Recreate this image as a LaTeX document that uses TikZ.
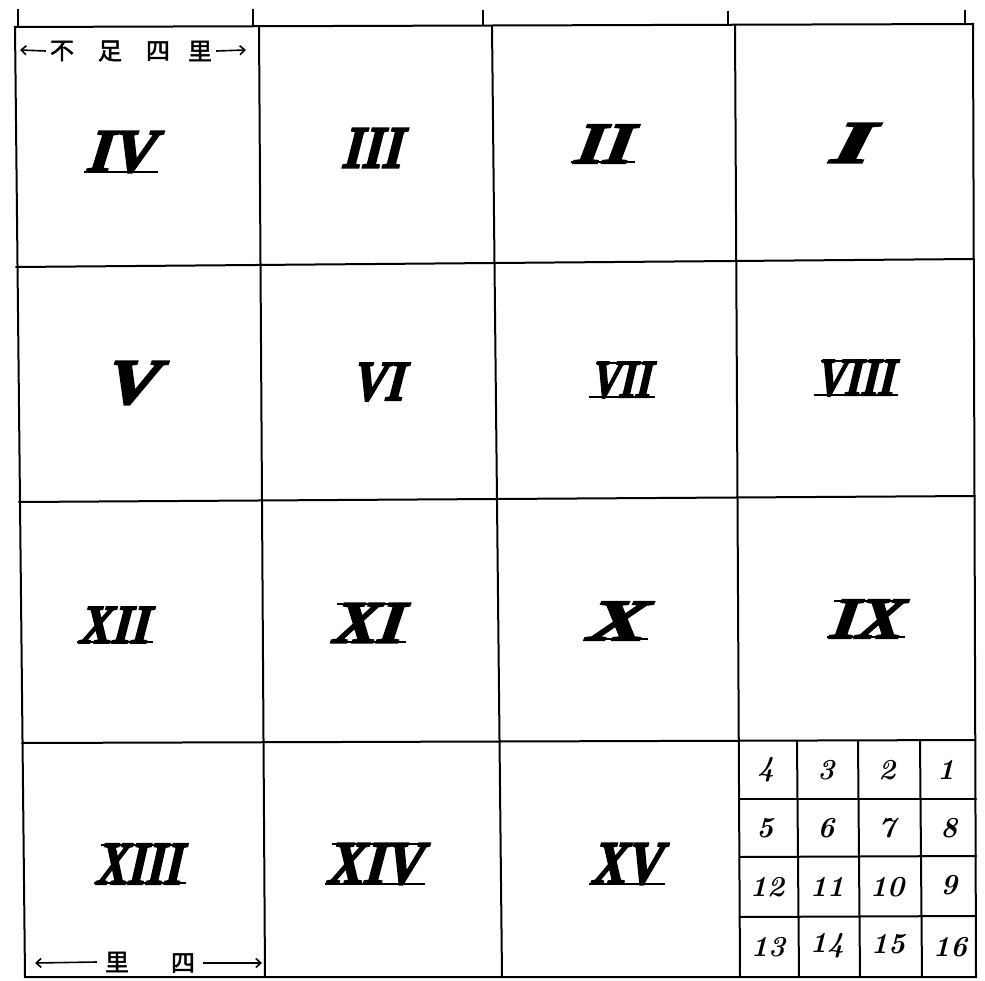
\documentclass[tikz,border=0pt]{standalone}
\usepackage{fontspec}
\usepackage{graphicx}
\newfontfamily\cjk{Noto Sans CJK SC}[FakeBold=2]
\newfontfamily\romanfont{Liberation Serif}[BoldItalicFeatures={FakeBold=3.5,FakeSlant=0.12}]
\usetikzlibrary{arrows.meta}
\newcommand\rn[3]{\resizebox{#1pt}{#2pt}{\romanfont\bfseries\itshape #3}}
\tikzset{
  gridline/.style={line width=2pt, line cap=round},
  tickline/.style={line width=2pt},
  bar/.style={line width=2.2pt},
  roman/.style={inner sep=0pt},
  small/.style={inner sep=0pt, font=\fontsize{29}{29}\selectfont\bfseries\itshape},
  han/.style={inner sep=0pt, font=\cjk\fontsize{24}{24}\selectfont},
  arr/.style={line width=1.6pt, -{Straight Barb[length=5pt,width=9pt]}}
}
\begin{document}
\begin{tikzpicture}[x=1pt,y=-1pt]
\useasboundingbox (0,0) rectangle (985,981);
% corner coordinates
\coordinate (t0) at (15,27);  \coordinate (b0) at (25,977);
\coordinate (t1) at (259,26); \coordinate (b1) at (265,977);
\coordinate (t2) at (492,26); \coordinate (b2) at (502,977);
\coordinate (t3) at (735,25); \coordinate (b3) at (740,977);
\coordinate (t4) at (973,24); \coordinate (b4) at (976,977);
\coordinate (l1) at (16,267); \coordinate (r1) at (974,259);
\coordinate (l2) at (19,502); \coordinate (r2) at (975,496);
\coordinate (l3) at (22,743); \coordinate (r3) at (975,740);
% outer frame and main grid
\draw[gridline] (t0) -- (t4) -- (b4) -- (b0) -- cycle;
\draw[gridline] (t1) -- (b1);
\draw[gridline] (t2) -- (b2);
\draw[gridline] (t3) -- (b3);
\draw[gridline] (l1) -- (r1);
\draw[gridline] (l2) -- (r2);
\draw[gridline] (l3) -- (r3);
% ticks above top
\coordinate (k0a) at (18,9);  \coordinate (k0b) at (18,27);
\coordinate (k1a) at (253,9); \coordinate (k1b) at (253,26);
\coordinate (k2a) at (483,10); \coordinate (k2b) at (483,26);
\coordinate (k3a) at (728,11); \coordinate (k3b) at (728,25);
\coordinate (k4a) at (965,10); \coordinate (k4b) at (965,24);
\foreach \k in {0,...,4} {\draw[tickline] (k\k a) -- (k\k b);}
% small 4x4 grid
\coordinate (sa) at (797,741); \coordinate (sa2) at (799,977);
\coordinate (sb) at (858,741); \coordinate (sb2) at (860,977);
\coordinate (sc) at (920,740); \coordinate (sc2) at (922,977);
\draw[gridline] (sa) -- (sa2);
\draw[gridline] (sb) -- (sb2);
\draw[gridline] (sc) -- (sc2);
\coordinate (s1l) at (740,799); \coordinate (s1r) at (976,799);
\coordinate (s2l) at (740,857); \coordinate (s2r) at (976,856);
\coordinate (s3l) at (740,917); \coordinate (s3r) at (976,916);
\draw[gridline] (s1l) -- (s1r);
\draw[gridline] (s2l) -- (s2r);
\draw[gridline] (s3l) -- (s3r);
% roman numerals
\node[roman] (rIV)   at (121,152) {\rn{67}{40}{IV}};
\node[roman] (rIII)  at (373,148) {\rn{60}{39}{III}};
\node[roman] (rII)   at (603,144) {\rn{57}{38}{II}};
\node[roman] (rI)    at (850,143) {\rn{40}{39}{I}};
\node[roman] (rV)    at (131,383) {\rn{52}{42}{V}};
\node[roman] (rVI)   at (379,382) {\rn{52}{37}{VI}};
\node[roman] (rVII)  at (622,380) {\rn{60}{35}{VII}};
\node[roman] (rVIII) at (856,378) {\rn{78}{35}{VIII}};
\node[roman] (rXII)  at (115,625) {\rn{70}{36}{XII}};
\node[roman] (rXI)   at (368,623) {\rn{70}{39}{XI}};
\node[roman] (rX)    at (616,621) {\rn{58}{38}{X}};
\node[roman] (rIX)   at (866,619) {\rn{72}{38}{IX}};
\node[roman] (rXIII) at (140,864) {\rn{86}{40}{XIII}};
\node[roman] (rXIV)  at (375,864) {\rn{94}{40}{XIV}};
\node[roman] (rXV)   at (627,864) {\rn{69}{40}{XV}};
% serif bars under the numerals
\foreach \r in {XII,XI,X,IX,XIII,XIV,XV,VII,VIII,II,IV}
  {\draw[bar] ([xshift=-3pt,yshift=1pt]r\r.south west) -- ([xshift=3pt,yshift=1pt]r\r.south east);}
\foreach \r in {XIII,XIV,VIII,VII,IX,XI}
  {\draw[bar] ([xshift=4pt,yshift=-1pt]r\r.north west) -- ([xshift=4pt,yshift=-1pt]r\r.north east);}
% small numbers
\node[small] (n4)  at (766,770) {4};
\node[small] (n3)  at (826,770) {3};
\node[small] (n2)  at (887,770) {2};
\node[small] (n1)  at (946,770) {1};
\node[small] (n5)  at (765,828) {5};
\node[small] (n6)  at (826,828) {6};
\node[small] (n7)  at (887,828) {7};
\node[small] (n8)  at (949,828) {8};
\node[small] (n12) at (767,887) {12};
\node[small] (n11) at (827,887) {11};
\node[small] (n10) at (887,887) {10};
\node[small] (n9)  at (949,885) {9};
\node[small] (n13) at (768,947) {13};
\node[small] (n14) at (827,946) {14};
\node[small] (n15) at (888,944) {15};
\node[small] (n16) at (950,947) {16};
% top label
\node[han] (bu)  at (62,51)  {不};
\node[han] (zu)  at (110,51) {足};
\node[han] (si)  at (158,51) {四};
\node[han] (li)  at (200,51) {里};
\coordinate (ta) at (20,50);
\coordinate (tb) at (246,50);
\draw[arr] (bu.west) ++(-4,0) -- (ta);
\draw[arr] (li.east) ++(4,0) -- (tb);
% bottom label
\node[han] (bli) at (117,962) {里};
\node[han] (bsi) at (183,963) {四};
\coordinate (ba) at (35,963);
\coordinate (bb) at (262,963);
\draw[arr] (bli.west) ++(-8,0) -- (ba);
\draw[arr] (bsi.east) ++(8,0) -- (bb);
\end{tikzpicture}
\end{document}
